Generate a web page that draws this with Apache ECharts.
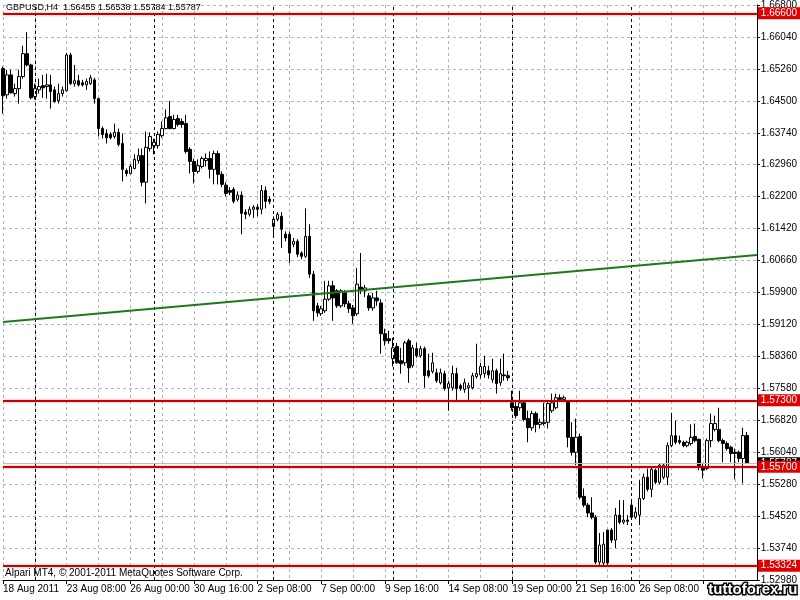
<!DOCTYPE html>
<html><head><meta charset="utf-8">
<script src="https://cdn.jsdelivr.net/npm/echarts@6/dist/echarts.min.js"></script>
<style>html,body{margin:0;padding:0;background:#fff}#c{width:800px;height:600px}</style>
</head><body><div id="c"></div>
<script>
const symbol = 'GBPUSD', period = 'H4';
const footerText = 'Alpari MT4, \u00a9 2001-2011 MetaQuotes Software Corp.';
const watermark = 'tuttoforex.ru';
// time labels, one every 16 bars (H4), starting with bar 0
const xLabels = ['18 Aug 2011','23 Aug 08:00','26 Aug 00:00','30 Aug 16:00','2 Sep 08:00','7 Sep 00:00','9 Sep 16:00','14 Sep 08:00','19 Sep 00:00','21 Sep 16:00','26 Sep 08:00'];
// price scale labels, bottom to top
const yLabels = ['1.52980','1.53740','1.54520','1.55280','1.56040','1.56820','1.57580','1.58360','1.59120','1.59900','1.60660','1.61420','1.62200','1.62960','1.63740','1.64500','1.65260','1.66040','1.66800'];
// first bar of each week (period separators)
const weekStarts = [8,38,68,98,128,158];
const opens = [
1.6527,1.6464,1.6512,1.6467,1.6479,1.6508,1.6563,1.6536,1.6460,1.6476,
1.6486,1.6484,1.6488,1.6476,1.6450,1.6467,1.6474,1.6560,1.6491,1.6498,
1.6493,1.6488,1.6491,1.6500,1.6455,1.6383,1.6371,1.6369,1.6364,1.6374,
1.6347,1.6282,1.6275,1.6287,1.6306,1.6318,1.6254,1.6335,1.6342,1.6342,
1.6366,1.6383,1.6412,1.6383,1.6407,1.6400,1.6395,1.6333,1.6304,1.6280,
1.6292,1.6306,1.6311,1.6285,1.6323,1.6273,1.6247,1.6234,1.6237,1.6213,
1.6223,1.6182,1.6177,1.6189,1.6194,1.6189,1.6234,1.6213,1.6148,1.6165,
1.6172,1.6129,1.6129,1.6105,1.6112,1.6084,1.6076,1.6124,1.6033,1.5957,
1.5938,1.5945,1.5973,1.6005,1.5993,1.5957,1.5988,1.5962,1.5952,1.5938,
1.6002,1.5993,1.5981,1.5952,1.5976,1.5964,1.5890,1.5878,1.5830,1.5859,
1.5825,1.5820,1.5873,1.5813,1.5854,1.5837,1.5854,1.5801,1.5799,1.5796,
1.5772,1.5794,1.5760,1.5760,1.5794,1.5765,1.5756,1.5760,1.5760,1.5787,
1.5791,1.5794,1.5801,1.5780,1.5801,1.5772,1.5791,1.5789,1.5724,1.5715,
1.5712,1.5724,1.5686,1.5664,1.5698,1.5672,1.5674,1.5677,1.5705,1.5712,
1.5736,1.5732,1.5729,1.5641,1.5605,1.5643,1.5499,1.5478,1.5459,1.5449,
1.5341,1.5339,1.5418,1.5418,1.5394,1.5454,1.5437,1.5442,1.5478,1.5449,
1.5454,1.5494,1.5545,1.5516,1.5562,1.5533,1.5545,1.5545,1.5621,1.5645,
1.5633,1.5629,1.5621,1.5626,1.5643,1.5636,1.5571,1.5566,1.5633,1.5660,
1.5660,1.5633,1.5626,1.5617,1.5605,1.5605,1.5590,1.56455];
const closes = [
1.6462,1.6512,1.6469,1.6479,1.6508,1.6563,1.6536,1.6457,1.6479,1.6484,
1.6481,1.6488,1.6472,1.6448,1.6467,1.6476,1.6560,1.6491,1.6498,1.6488,
1.6488,1.6496,1.6505,1.6455,1.6383,1.6369,1.6361,1.6361,1.6374,1.6345,
1.6285,1.6275,1.6292,1.6309,1.6318,1.6254,1.6338,1.6364,1.6350,1.6369,
1.6383,1.6409,1.6383,1.6405,1.6393,1.6393,1.6328,1.6304,1.6280,1.6294,
1.6311,1.6311,1.6285,1.6323,1.6273,1.6249,1.6227,1.6230,1.6208,1.6223,
1.6179,1.6177,1.6189,1.6194,1.6189,1.6234,1.6208,1.6208,1.6165,1.6177,
1.6141,1.6120,1.6084,1.6112,1.6081,1.6076,1.6124,1.6033,1.5945,1.5940,
1.5950,1.5973,1.6005,1.5976,1.5957,1.5993,1.5962,1.5950,1.5933,1.6009,
1.5993,1.6000,1.5952,1.5976,1.5969,1.5890,1.5873,1.5873,1.5856,1.5820,
1.5818,1.5868,1.5808,1.5856,1.5837,1.5854,1.5789,1.5789,1.5820,1.5777,
1.5796,1.5758,1.5770,1.5794,1.5758,1.5758,1.5772,1.5765,1.5789,1.5794,
1.5811,1.5811,1.5791,1.5801,1.5770,1.5794,1.5789,1.5784,1.5712,1.5693,
1.5724,1.5684,1.5664,1.5698,1.5672,1.5677,1.5677,1.5722,1.5724,1.5736,
1.5732,1.5736,1.5641,1.5605,1.5641,1.5497,1.5478,1.5459,1.5449,1.5341,
1.5382,1.5384,1.5339,1.5394,1.5454,1.5437,1.5442,1.5439,1.5449,1.5461,
1.5494,1.5545,1.5516,1.5564,1.5533,1.5574,1.5574,1.5621,1.5645,1.5629,
1.5629,1.5621,1.5629,1.5641,1.5633,1.5569,1.5562,1.5633,1.5674,1.5674,
1.5633,1.5626,1.5614,1.5602,1.5602,1.5590,1.5645,1.55787];
const highs = [
1.6532,1.6524,1.6524,1.6491,1.6524,1.6582,1.6615,1.6539,1.6491,1.6503,
1.6512,1.6515,1.6512,1.6484,1.6491,1.6484,1.6565,1.6565,1.6536,1.6512,
1.6500,1.6503,1.6512,1.6505,1.6457,1.6388,1.6381,1.6374,1.6395,1.6383,
1.6371,1.6287,1.6297,1.6321,1.6335,1.6335,1.6376,1.6374,1.6359,1.6376,
1.6400,1.6429,1.6450,1.6416,1.6416,1.6407,1.6416,1.6338,1.6311,1.6309,
1.6316,1.6323,1.6328,1.6330,1.6330,1.6280,1.6254,1.6242,1.6242,1.6232,
1.6232,1.6189,1.6196,1.6199,1.6201,1.6247,1.6244,1.6220,1.6172,1.6182,
1.6182,1.6136,1.6136,1.6120,1.6117,1.6088,1.6191,1.6153,1.6041,1.5964,
1.5957,1.6017,1.6017,1.6017,1.5997,1.5997,1.5995,1.5969,1.5959,1.6048,
1.6084,1.6007,1.5988,1.5988,1.5993,1.5973,1.5902,1.5897,1.5880,1.5868,
1.5856,1.5873,1.5878,1.5863,1.5868,1.5861,1.5859,1.5842,1.5844,1.5806,
1.5806,1.5801,1.5777,1.5813,1.5808,1.5770,1.5782,1.5772,1.5796,1.5866,
1.5820,1.5837,1.5813,1.5830,1.5806,1.5830,1.5842,1.5801,1.5753,1.5729,
1.5753,1.5729,1.5705,1.5705,1.5703,1.5686,1.5724,1.5729,1.5746,1.5746,
1.5744,1.5741,1.5729,1.5677,1.5686,1.5650,1.5518,1.5483,1.5497,1.5454,
1.5411,1.5413,1.5418,1.5423,1.5471,1.5490,1.5490,1.5454,1.5490,1.5473,
1.5538,1.5554,1.5566,1.5569,1.5566,1.5578,1.5578,1.5629,1.5700,1.5681,
1.5645,1.5633,1.5633,1.5672,1.5674,1.5638,1.5578,1.5638,1.5698,1.5693,
1.5712,1.5638,1.5631,1.5621,1.5614,1.5609,1.5664,1.56538];
const lows = [
1.6419,1.6455,1.6467,1.6460,1.6443,1.6503,1.6532,1.6453,1.6453,1.6467,
1.6457,1.6455,1.6431,1.6445,1.6443,1.6460,1.6472,1.6488,1.6484,1.6484,
1.6484,1.6476,1.6488,1.6443,1.6364,1.6359,1.6347,1.6357,1.6359,1.6340,
1.6256,1.6268,1.6273,1.6285,1.6299,1.6244,1.6203,1.6328,1.6321,1.6335,
1.6361,1.6381,1.6381,1.6381,1.6388,1.6385,1.6323,1.6275,1.6251,1.6275,
1.6287,1.6292,1.6263,1.6249,1.6249,1.6242,1.6220,1.6223,1.6203,1.6208,
1.6129,1.6165,1.6172,1.6168,1.6172,1.6177,1.6191,1.6201,1.6124,1.6160,
1.6096,1.6112,1.6060,1.6098,1.6074,1.6069,1.6072,1.6024,1.5921,1.5931,
1.5933,1.5940,1.5969,1.5921,1.5952,1.5952,1.5954,1.5940,1.5914,1.5933,
1.5985,1.5978,1.5945,1.5945,1.5957,1.5842,1.5861,1.5866,1.5811,1.5818,
1.5794,1.5813,1.5772,1.5808,1.5832,1.5832,1.5760,1.5784,1.5794,1.5772,
1.5768,1.5753,1.5705,1.5753,1.5729,1.5753,1.5748,1.5729,1.5756,1.5782,
1.5782,1.5784,1.5782,1.5772,1.5746,1.5765,1.5777,1.5777,1.5705,1.5686,
1.5705,1.5679,1.5629,1.5657,1.5653,1.5662,1.5669,1.5662,1.5700,1.5708,
1.5727,1.5727,1.5617,1.5597,1.5574,1.5492,1.5473,1.5449,1.5444,1.5336,
1.5332,1.5333,1.5333,1.5387,1.5375,1.5432,1.5432,1.5430,1.5444,1.5444,
1.5430,1.5490,1.5511,1.5497,1.5528,1.5528,1.5540,1.5526,1.5617,1.5624,
1.5624,1.5617,1.5617,1.5621,1.5629,1.5562,1.5542,1.5562,1.5617,1.5655,
1.5629,1.5581,1.5609,1.5581,1.5540,1.5581,1.5530,1.55784];
// horizontal levels drawn on chart
const levels = [1.66600, 1.57300, 1.55700, 1.53324];
// trend line end points: [bar, price]
const trendStart = [0, 1.5918];
const trendEnd = [189.5, 1.6079];
const priceMin = 1.5298, priceMax = 1.6680;
const barSlots = 189.5;

const candles = opens.map((o, i) => [i, o, closes[i], lows[i], highs[i]]);
const last = opens.length - 1;
const fmt = v => Number(v).toFixed(5);
const FONT = 'Liberation Sans';

const chart = echarts.init(document.getElementById('c'), null, {renderer: 'canvas'});
chart.setOption({
  animation: false,
  backgroundColor: '#ffffff',
  title: {
    text: `${symbol},${period}  ${fmt(opens[last])} ${fmt(highs[last])} ${fmt(lows[last])} ${fmt(closes[last])}`,
    left: 6, top: 3, padding: 0,
    textStyle: {fontFamily: FONT, fontSize: 9, fontWeight: 'normal', color: '#000'}
  },
  grid: {left: 3, right: 39, top: 3, bottom: 20, containLabel: false},
  xAxis: [{
    type: 'value', min: 0, max: barSlots, interval: 16, position: 'bottom',
    axisLine: {show: true, onZero: false, lineStyle: {color: '#000', width: 1}},
    axisTick: {show: true, length: 4, lineStyle: {color: '#000'}},
    axisLabel: {show: true, showMaxLabel: false, align: 'left', margin: 4,
      fontFamily: FONT, fontSize: 10, color: '#000',
      formatter: v => xLabels[v / 16] || ''},
    splitLine: {show: false}
  }, {
    type: 'value', min: 0, max: barSlots, interval: 8, position: 'bottom',
    axisLine: {show: false}, axisTick: {show: false}, axisLabel: {show: false},
    splitLine: {show: true, lineStyle: {color: '#b4b4b4', type: [3, 3], width: 1}}
  }],
  yAxis: [{
    type: 'value', min: priceMin, max: priceMax, show: false, scale: true
  }, {
    type: 'value', min: 0, max: yLabels.length - 1, interval: 1, position: 'right',
    axisLine: {show: true, onZero: false, lineStyle: {color: '#000', width: 1}},
    axisTick: {show: true, length: 3, lineStyle: {color: '#000'}},
    axisLabel: {show: true, margin: 4, fontFamily: FONT, fontSize: 10, color: '#000',
      formatter: v => yLabels[v] || ''},
    splitLine: {show: true, lineStyle: {color: '#b4b4b4', type: [3, 3], width: 1}}
  }],
  series: [{
    type: 'candlestick',
    xAxisIndex: 0, yAxisIndex: 0,
    data: candles,
    barWidth: 3,
    clip: false,
    itemStyle: {color: '#ffffff', color0: '#000000', borderColor: '#000000', borderColor0: '#000000', borderWidth: 1},
    markLine: {
      silent: true, symbol: 'none', animation: false, precision: 5,
      data: [
        ...weekStarts.map(w => ({xAxis: w, lineStyle: {color: '#000', type: [3, 3], width: 1}, label: {show: false}})),
        [{coord: trendStart, lineStyle: {color: '#1c7a1c', width: 2, type: 'solid'}, label: {show: false}}, {coord: trendEnd}],
        {yAxis: closes[last], lineStyle: {color: '#c0c0c0', width: 1, type: 'solid'},
          label: {show: true, position: 'end', distance: 1, formatter: p => fmt(p.value),
            backgroundColor: '#000', color: '#fff', padding: [1, 3, 1, 3], fontFamily: FONT, fontSize: 10}},
        ...levels.map(l => ({yAxis: l, lineStyle: {color: '#c80000', width: 2, type: 'solid', shadowColor: 'rgba(230,80,80,0.5)', shadowBlur: 3},
          label: {show: true, position: 'end', distance: 1, formatter: p => fmt(p.value),
            backgroundColor: '#e00000', color: '#fff', padding: [1, 3, 1, 3], fontFamily: FONT, fontSize: 10}}))
      ]
    }
  }],
  graphic: [{
    type: 'text', left: 5, top: 568, z: 100,
    style: {text: footerText, fontFamily: FONT, fontSize: 10, fill: '#000'}
  }, {
    type: 'text', right: 1, bottom: 1, z: 100,
    style: {text: watermark, fontFamily: 'Liberation Sans', fontWeight: 'bold', fontSize: 15,
      fill: '#ffffff', stroke: '#000000', lineWidth: 3}
  }]
});
</script></body></html>
